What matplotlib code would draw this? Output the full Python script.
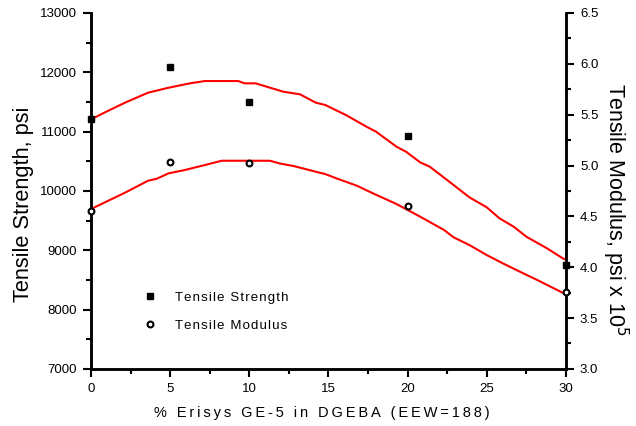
import numpy as np
import matplotlib.pyplot as plt
from matplotlib.ticker import MultipleLocator
from matplotlib.lines import Line2D

plt.rcParams['font.family'] = ['Liberation Sans', 'DejaVu Sans']

# measured points
pct = [0, 5, 10, 20, 30]
strength = [11210, 12085, 11505, 10930, 8755]       # psi
modulus = [4.555, 5.03, 5.02, 4.60, 3.76]           # psi x 10^5

# fitted curves
fit_s_x = [0, 1.0, 2.15, 3.6, 4.9, 6.25, 7.2, 9.3, 9.7, 10.4, 12.15, 13.2, 14.2, 14.8,
           16.1, 17.4, 18.0, 19.3, 19.9, 20.8, 21.4, 22.9, 23.9, 25.0, 25.8, 26.7,
           27.5, 28.8, 29.8, 30]
fit_s_y = [11207, 11340, 11488, 11656, 11740, 11814, 11853, 11853, 11814, 11814, 11673,
           11629, 11488, 11449, 11280, 11083, 11000, 10745, 10661, 10480, 10408, 10100,
           9892, 9723, 9538, 9396, 9228, 9032, 8863, 8840]
fit_m_x = [0, 2.15, 3.6, 4.15, 4.9, 5.9, 7.2, 8.25, 10.4, 11.3, 11.9, 12.8, 14.2, 14.8,
           15.5, 16.8, 17.8, 19.3, 20.8, 22.3, 22.9, 23.9, 25.0, 26.1, 27.1, 28.2, 29.8, 30]
fit_m_y = [4.572, 4.733, 4.850, 4.870, 4.923, 4.955, 5.005, 5.047, 5.047, 5.047, 5.021,
           4.995, 4.939, 4.916, 4.874, 4.801, 4.727, 4.621, 4.496, 4.366, 4.294, 4.218,
           4.119, 4.031, 3.955, 3.873, 3.748, 3.738]

fig = plt.figure(figsize=(6.36, 4.26), dpi=100)
ax = fig.add_axes([0.143, 0.134, 0.747, 0.8355])
ax2 = ax.twinx()

ax.plot(fit_s_x, fit_s_y, color='red', lw=1.5, zorder=2)
ax2.plot(fit_m_x, fit_m_y, color='red', lw=1.5, zorder=2)
ax.plot(pct, strength, 's', color='black', ms=4.8, clip_on=False, zorder=3)
ax2.plot(pct, modulus, 'o', mfc='white', mec='black', mew=1.5, ms=4.2, clip_on=False, zorder=3)

ax.set_xlim(0, 30)
ax.set_ylim(7000, 13000)
ax2.set_ylim(3.0, 6.5)

ax.xaxis.set_major_locator(MultipleLocator(5))
ax.xaxis.set_minor_locator(MultipleLocator(2.5))
ax.yaxis.set_major_locator(MultipleLocator(1000))
ax.yaxis.set_minor_locator(MultipleLocator(500))
ax2.yaxis.set_major_locator(MultipleLocator(0.5))
ax2.yaxis.set_minor_locator(MultipleLocator(0.25))
ax2.yaxis.set_major_formatter(plt.FormatStrFormatter('%.1f'))

for a in (ax, ax2):
    a.spines['top'].set_visible(False)
    for s in ('left', 'right', 'bottom'):
        a.spines[s].set_linewidth(1.8)
    a.tick_params(which='major', direction='out', length=6, width=1.5, labelsize=9.5, pad=4)
    a.tick_params(which='minor', direction='out', length=3.5, width=1.5)

ax.set_ylabel('Tensile Strength, psi', fontsize=15.7, va='center')
ax.yaxis.set_label_coords(-0.141, 0.463)
ax2.set_ylabel('Tensile Modulus, psi x 10$^5$', fontsize=15.5, rotation=-90, va='center')
ax2.yaxis.set_label_coords(1.104, 0.447)

xl = '% Erisys GE-5 in DGEBA (EEW=188)'
ax.set_xlabel('\u2009'.join(xl), fontsize=10.5)
ax.xaxis.set_label_coords(0.485, -0.105)

handles = [
    Line2D([0], [0], marker='s', color='black', ls='none', ms=4.8),
    Line2D([0], [0], marker='o', mfc='white', mec='black', mew=1.5, ls='none', ms=4.2),
]
labels = ['\u200a'.join('Tensile Strength'), '\u200a'.join('Tensile Modulus')]
ax.legend(handles, labels, loc='upper left', bbox_to_anchor=(0.085, 0.25), frameon=False,
          fontsize=9.5, handlelength=1.0, handletextpad=1.4, labelspacing=1.2)

fig.savefig('out.png', dpi=100)
